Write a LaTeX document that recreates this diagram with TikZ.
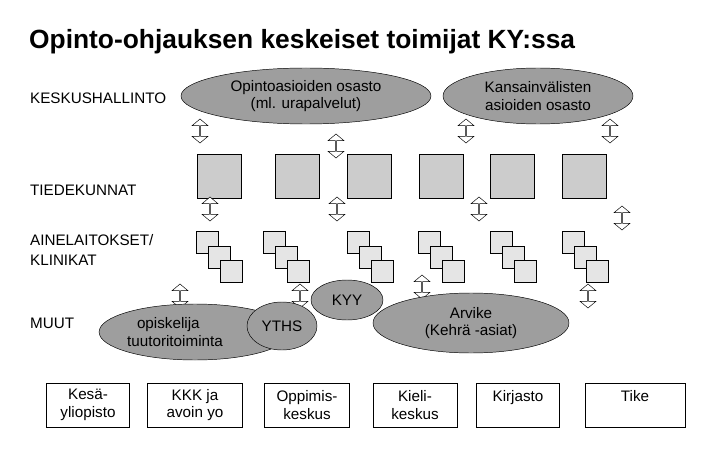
\documentclass[tikz,border=0pt]{standalone}
\usepackage{fontspec}
\setmainfont{Liberation Sans}
\usetikzlibrary{shapes.geometric,shapes.arrows}

\tikzset{
  oval/.style={ellipse,draw,fill=black!38,inner sep=0pt,align=center,font=\fontsize{13}{15}\selectfont},
  unit/.style={draw,fill=black!20,minimum size=44*0.03cm,inner sep=0pt},
  dept/.style={draw,fill=black!10,minimum size=22*0.03cm,inner sep=0pt},
  link/.style={double arrow,draw,fill=white,shape border rotate=90,minimum height=24*0.03cm,
    minimum width=16*0.03cm,double arrow head extend=2.5pt,double arrow tip angle=100,inner sep=0pt},
  rowlabel/.style={anchor=west,align=left,font=\fontsize{13}{17}\selectfont},
  service/.style={draw,fill=white,align=center,minimum height=44*0.03cm,font=\fontsize{13}{15}\selectfont}
}

\begin{document}
\begin{tikzpicture}[x=0.03cm,y=-0.03cm]
\useasboundingbox (0,0) rectangle (704,453);
\node[anchor=west,font=\bfseries\fontsize{22.5}{26}\selectfont] (title) at (25,42) {Opinto-ohjauksen keskeiset toimijat KY:ssa};
% rivien otsikot
\node[rowlabel] (lkesk) at (26,98) {KESKUSHALLINTO};
\node[rowlabel] (ltied) at (26,190) {TIEDEKUNNAT};
\node[rowlabel] (lain) at (26,250) {AINELAITOKSET/\\KLINIKAT};
\node[rowlabel] (lmuut) at (26,323) {MUUT};
% keskushallinto
\node[oval,minimum width=250*0.03cm,minimum height=56*0.03cm] (opas) at (306,96) {Opintoasioiden osasto\\(ml. urapalvelut)};
\node[oval,minimum width=190*0.03cm,minimum height=56*0.03cm] (kv) at (538,96) {Kansainvälisten\\asioiden osasto};
% tiedekunnat
\foreach \x [count=\i] in {219,297,369,441,512,584}
  \node[unit] (t\i) at (\x,176) {};
% ainelaitokset
\foreach \x [count=\i] in {209,276,360,431,503,575} {
  \node[dept] (a\i a) at (\x-2,242) {};
  \node[dept] (a\i b) at (\x+10,257) {};
  \node[dept] (a\i c) at (\x+22,271) {};
}
% nuolet
\foreach \x/\y [count=\i] in {200/131,336/146,466/131,610/131,210/209,337/209,479/209,622/218,180/296,300/296,422/287,588/296}
  \node[link] (n\i) at (\x,\y) {};
% muut
\node[oval,minimum width=170*0.03cm,minimum height=56*0.03cm] (tutor) at (195,332) {opiskelija\hspace*{1.6cm}\\tuutoritoiminta\hspace*{1.2cm}};
\node[oval,minimum width=70*0.03cm,minimum height=48*0.03cm] (yths) at (282,326) {YTHS};
\node[oval,minimum width=72*0.03cm,minimum height=40*0.03cm] (kyy) at (347,300) {KYY};
\node[oval,minimum width=196*0.03cm,minimum height=60*0.03cm] (arvike) at (471,323) {Arvike\\(Kehrä -asiat)};
% palvelut
\foreach \x/\w/\t [count=\i] in {88/83/{Kesä-\\yliopisto},195/95/{KKK ja\\avoin yo},307/85/{Oppimis-\\keskus},415/84/{Kieli-\\keskus},518/83/{Kirjasto\\\mbox{}},635/100/{Tike\\\mbox{}}}
  \node[service,minimum width=\w*0.03cm] (p\i) at (\x,405) {\t};
\end{tikzpicture}
\end{document}
